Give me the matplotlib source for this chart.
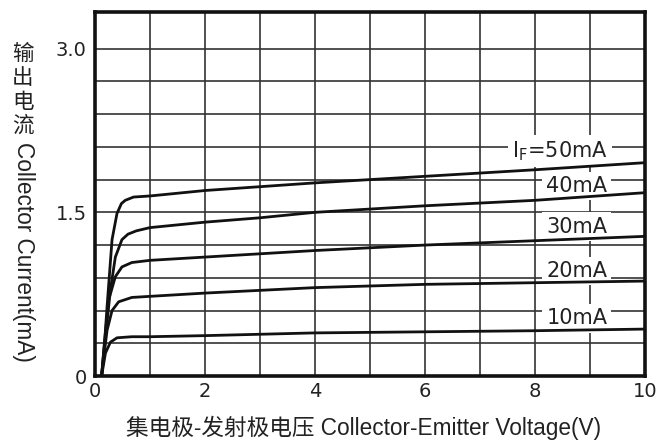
import matplotlib
matplotlib.use("Agg")
import matplotlib.pyplot as plt
import numpy as np

# Collector current vs collector-emitter voltage, one curve per forward current
v_50 = [0.12, 0.18, 0.22, 0.31, 0.40, 0.48, 0.55, 0.70, 1.0, 2.0, 4.0, 6.0, 8.0, 10.0]
i_50 = [0.0, 0.35, 0.64, 1.25, 1.49, 1.58, 1.61, 1.64, 1.65, 1.70, 1.77, 1.83, 1.89, 1.955]

v_40 = [0.12, 0.20, 0.28, 0.37, 0.49, 0.60, 0.75, 1.0, 2.0, 3.0, 4.0, 6.0, 8.0, 10.0]
i_40 = [0.0, 0.40, 0.79, 1.09, 1.25, 1.30, 1.33, 1.36, 1.41, 1.45, 1.50, 1.56, 1.61, 1.68]

v_30 = [0.12, 0.18, 0.25, 0.37, 0.49, 0.67, 1.0, 2.0, 4.0, 6.0, 8.0, 10.0]
i_30 = [0.0, 0.35, 0.70, 0.91, 1.00, 1.04, 1.06, 1.09, 1.15, 1.20, 1.24, 1.28]

v_20 = [0.12, 0.17, 0.22, 0.31, 0.43, 0.67, 1.0, 2.0, 4.0, 6.0, 8.0, 10.0]
i_20 = [0.0, 0.22, 0.42, 0.60, 0.68, 0.72, 0.73, 0.76, 0.81, 0.84, 0.855, 0.87]

v_10 = [0.12, 0.19, 0.28, 0.40, 0.67, 1.0, 2.0, 4.0, 6.0, 8.0, 10.0]
i_10 = [0.0, 0.21, 0.31, 0.35, 0.36, 0.36, 0.37, 0.395, 0.405, 0.415, 0.43]

curve_labels = [r"I$_\mathregular{F}$=50mA", "40mA", "30mA", "20mA", "10mA"]
label_x = [8.45, 8.76, 8.76, 8.76, 8.76]
label_y = [2.06, 1.74, 1.37, 0.96, 0.527]

x_ticks = np.arange(0, 11, 1)
x_ticklabels = ["0", "", "2", "", "4", "", "6", "", "8", "", "10"]
y_ticks = np.arange(0, 11) * 0.3
y_ticklabels = ["0", "", "", "", "", "1.5", "", "", "", "", "3.0"]

fig = plt.figure(figsize=(6.72, 4.44), dpi=100)
ax = fig.add_axes([95 / 672, 68 / 444, 550 / 672, 364 / 444])

for v, i in [(v_50, i_50), (v_40, i_40), (v_30, i_30), (v_20, i_20), (v_10, i_10)]:
    ax.plot(v, i, color="#111111", lw=2.0, solid_joinstyle="round",
            solid_capstyle="round", zorder=3)

ax.set_xlim(0, 10)
ax.set_ylim(0, 3.336)
ax.set_xticks(x_ticks)
ax.set_xticklabels(x_ticklabels)
ax.set_yticks(y_ticks)
ax.set_yticklabels(y_ticklabels)
ax.tick_params(length=0, labelsize=14, labelcolor="#222222")
ax.tick_params(axis="x", pad=4)
ax.tick_params(axis="y", pad=6)
ax.set_axisbelow(True)
ax.grid(True, color="#333333", lw=1.2)
for s in ax.spines.values():
    s.set_linewidth(2.6)
    s.set_color("#111111")

for txt, x, y in zip(curve_labels, label_x, label_y):
    ax.text(x, y, txt, ha="center", va="center", fontsize=15, color="#222222",
            zorder=2.5,
            bbox=dict(facecolor="white", edgecolor="none", pad=3))

# y label: Chinese stacked upright, English rotated
for k, ch in enumerate("输出电流"):
    fig.text(23 / 672, 1 - (54 + 24 * k) / 444, ch, ha="center", va="center",
             fontsize=15.5, family=["Noto Sans CJK SC", "DejaVu Sans"], color="#222222")
fig.text(23 / 672, 1 - 252 / 444, "Collector Current(mA)", rotation=270,
         ha="center", va="center", fontsize=16.3,
         family=["Liberation Sans", "DejaVu Sans"], color="#222222")

fig.text(364 / 672, 1 - 428 / 444, "集电极-发射极电压 Collector-Emitter Voltage(V)",
         ha="center", va="center", fontsize=16.3,
         family=["Liberation Sans", "Noto Sans CJK SC"], color="#222222")

fig.savefig("out.png", dpi=100, facecolor="white")
